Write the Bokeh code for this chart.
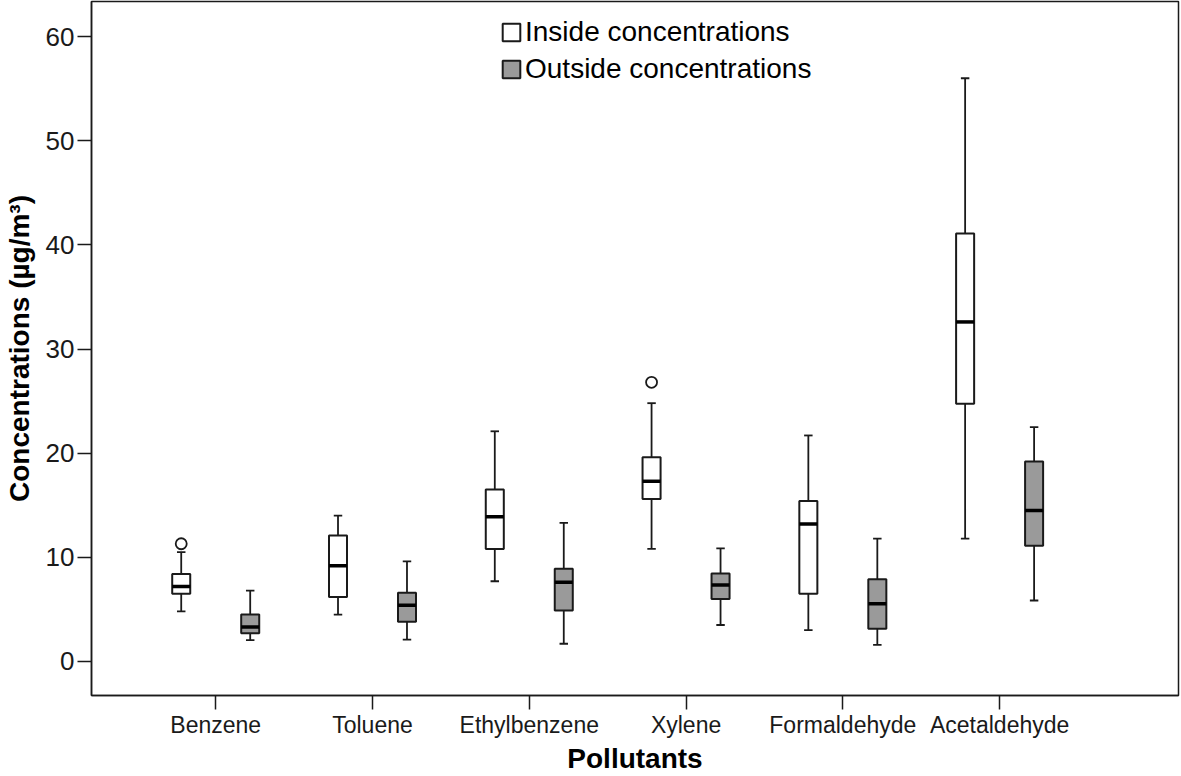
import numpy as np
from bokeh.plotting import figure
from bokeh.models import (Range1d, FixedTicker, Legend, LegendItem, ColumnDataSource)
from bokeh.embed import file_html
from bokeh.resources import INLINE

categories = ["Benzene", "Toluene", "Ethylbenzene", "Xylene", "Formaldehyde", "Acetaldehyde"]

inside_low = [4.8, 4.5, 7.7, 10.8, 3.0, 11.8]
inside_q1 = [6.5, 6.2, 10.8, 15.6, 6.5, 24.75]
inside_med = [7.2, 9.2, 13.9, 17.3, 13.2, 32.6]
inside_q3 = [8.4, 12.1, 16.5, 19.6, 15.4, 41.1]
inside_high = [10.5, 14.0, 22.1, 24.8, 21.7, 56.0]

outside_low = [2.05, 2.1, 1.7, 3.5, 1.6, 5.85]
outside_q1 = [2.7, 3.8, 4.9, 6.0, 3.15, 11.1]
outside_med = [3.3, 5.4, 7.6, 7.35, 5.55, 14.5]
outside_q3 = [4.5, 6.6, 8.9, 8.45, 7.9, 19.2]
outside_high = [6.8, 9.6, 13.3, 10.85, 11.8, 22.5]

outlier_category = ["Benzene", "Xylene"]
outlier_value = [11.3, 26.8]

y_ticks = [0, 10, 20, 30, 40, 50, 60]

FONT = "Liberation Sans"
INK = "#1a1a1a"
GREY = "#9a9a9a"

p = figure(width=1181, height=776, output_backend="svg", toolbar_location=None,
           x_range=Range1d(0.2077, 7.141), y_range=Range1d(-3.27, 63.37),
           min_border_left=85, min_border_right=3, min_border_top=1, min_border_bottom=60)

p.xgrid.visible = False
p.ygrid.visible = False
p.outline_line_color = INK
p.outline_line_width = 1.5
p.background_fill_color = "white"
p.border_fill_color = "white"

xs = np.arange(1, len(categories) + 1)
off = 0.22
bw = 0.115
cap = 0.027


def draw(xpos, low, q1, med, q3, high, fill):
    src = ColumnDataSource(dict(x=xpos, low=low, q1=q1, med=med, q3=q3, high=high,
                                cl=xpos - cap, cr=xpos + cap,
                                bl=xpos - bw / 2, br=xpos + bw / 2))
    p.segment(x0="x", y0="q3", x1="x", y1="high", source=src, line_color=INK, line_width=1.8)
    p.segment(x0="x", y0="low", x1="x", y1="q1", source=src, line_color=INK, line_width=1.8)
    p.segment(x0="cl", y0="high", x1="cr", y1="high", source=src, line_color=INK, line_width=1.8)
    p.segment(x0="cl", y0="low", x1="cr", y1="low", source=src, line_color=INK, line_width=1.8)
    r = p.vbar(x="x", width=bw, bottom="q1", top="q3", source=src,
               fill_color=fill, line_color=INK, line_width=2)
    p.segment(x0="bl", y0="med", x1="br", y1="med", source=src, line_color="black", line_width=3.5)
    return r


r_in = draw(xs - off, inside_low, inside_q1, inside_med, inside_q3, inside_high, "white")
r_out = draw(xs + off, outside_low, outside_q1, outside_med, outside_q3, outside_high, GREY)

ox = [xs[categories.index(c)] - off for c in outlier_category]
p.scatter(ox, outlier_value, marker="circle", size=11, fill_color="white",
          line_color=INK, line_width=1.8)

# axes
p.xaxis.ticker = FixedTicker(ticks=list(xs))
p.xaxis.major_label_overrides = {int(i): c for i, c in zip(xs, categories)}
p.yaxis.ticker = FixedTicker(ticks=y_ticks)
for ax in (p.xaxis, p.yaxis):
    ax.axis_line_color = INK
    ax.axis_line_width = 1.5
    ax.major_tick_line_color = INK
    ax.major_tick_line_width = 1.5
    ax.major_tick_out = 14
    ax.major_tick_in = 0
    ax.minor_tick_line_color = None
    ax.major_label_text_font = FONT
    ax.major_label_text_color = INK
    ax.axis_label_text_font = FONT
    ax.axis_label_text_font_style = "bold"
    ax.axis_label_text_color = "black"
    ax.axis_label_text_font_size = "28px"

p.xaxis.major_label_text_font_size = "23px"
p.yaxis.major_label_text_font_size = "26px"
p.xaxis.major_label_standoff = 2
p.yaxis.major_label_standoff = 3
p.xaxis.axis_label = "Pollutants"
p.yaxis.axis_label = "Concentrations (µg/m³)"
p.xaxis.axis_label_standoff = 2
p.yaxis.axis_label_standoff = 8

legend = Legend(items=[LegendItem(label="Inside concentrations", renderers=[r_in]),
                       LegendItem(label="Outside concentrations", renderers=[r_out])],
                location=(409, 610), orientation="vertical",
                border_line_color=None, background_fill_alpha=0,
                padding=0, margin=0, spacing=5,
                glyph_width=22, glyph_height=22, label_standoff=3,
                label_text_font=FONT, label_text_font_size="28px",
                label_text_color="black")
p.add_layout(legend)

open("out.html", "w").write(file_html(p, INLINE))
